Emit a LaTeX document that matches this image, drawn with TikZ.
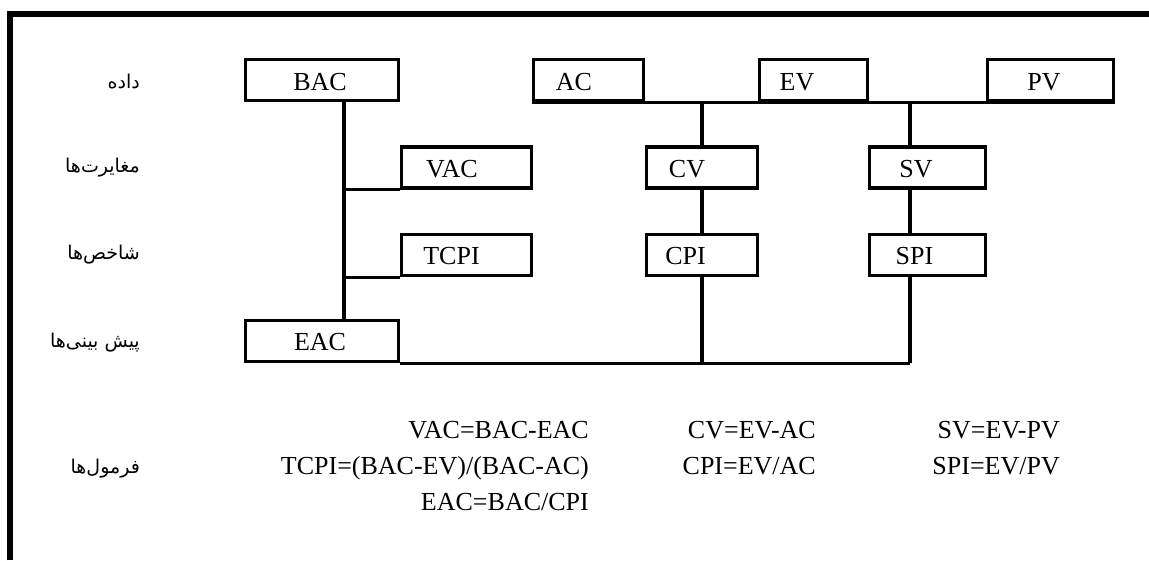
\documentclass[tikz,border=0pt]{standalone}
\usepackage{fontspec}
\setmainfont{Liberation Serif}
\newfontfamily\fa[Script=Arabic]{DejaVu Sans}
\TeXXeTstate=1
\begin{document}
\begin{tikzpicture}[x=1pt,y=-1pt,line join=miter]
\useasboundingbox (0,0) rectangle (1149,560);
\tikzset{
 box/.style={draw,line width=3.4pt,inner sep=0pt,minimum height=41pt},
 lbl/.style={anchor=base,inner sep=0pt,font=\fontsize{26}{30}\selectfont},
 fml/.style={anchor=base east,inner sep=0pt,font=\fontsize{26}{30}\selectfont},
 falbl/.style={anchor=east,inner sep=0pt,font=\fa\fontsize{19}{22}\selectfont},
 wire/.style={line width=3.4pt},
 frameline/.style={line width=6pt}
}
% frame
\coordinate (f1) at (10,560);
\coordinate (f2) at (10,14);
\coordinate (f3) at (1149,14);
\draw[frameline] (f1) -- (f2) -- (f3);
% boxes
\node[box,minimum width=153pt] (bac) at (322,80) {};
\node[box,minimum width=110pt] (ac) at (588.5,80) {};
\node[box,minimum width=108pt] (ev) at (813.5,80) {};
\node[box,minimum width=126pt] (pv) at (1050.5,80) {};
\node[box,minimum width=130pt] (vac) at (466.5,167.5) {};
\node[box,minimum width=111pt] (cv) at (702,167.5) {};
\node[box,minimum width=116pt] (sv) at (927.5,167.5) {};
\node[box,minimum width=130pt] (tcpi) at (466.5,255) {};
\node[box,minimum width=111pt] (cpi) at (702,255) {};
\node[box,minimum width=116pt] (spi) at (927.5,255) {};
\node[box,minimum width=153pt] (eac) at (322,341) {};
% box texts
\node[lbl] (tbac) at (320,90) {BAC};
\node[lbl] (tac) at (574,90) {AC};
\node[lbl] (tev) at (797,90) {EV};
\node[lbl] (tpv) at (1044,90) {PV};
\node[lbl] (tvac) at (452,177) {VAC};
\node[lbl] (tcv) at (687,177) {CV};
\node[lbl] (tsv) at (916,177) {SV};
\node[lbl] (ttcpi) at (451.5,264.5) {TCPI};
\node[lbl] (tcpi2) at (685.5,264.5) {CPI};
\node[lbl] (tspi) at (914.5,264.5) {SPI};
\node[lbl] (teac) at (320,350) {EAC};
% connectors
\coordinate (tb) at (344,0);
\coordinate (ts) at (910,0);
\draw[wire] (bac.south -| tb) -- (eac.north -| tb);
\draw[wire] (vac.south west) -- (vac.south west -| tb);
\draw[wire] (tcpi.south west) -- (tcpi.south west -| tb);
\draw[wire] (ac.south west) -- (pv.south east);
\draw[wire] (cv.north) -- (cv.north |- ac.south);
\draw[wire] (cv.south) -- (cpi.north);
\draw[wire] (cpi.south) -- (cpi.south |- eac.south);
\draw[wire] (sv.north -| ts) -- (ac.south -| ts);
\draw[wire] (sv.south -| ts) -- (spi.north -| ts);
\draw[wire] (spi.south -| ts) -- (eac.south -| ts);
\draw[wire] (eac.south east) -- (eac.south -| ts);
% Persian row labels
\node[falbl] (r1) at (140,82) {\beginR داده\endR};
\node[falbl] (r2) at (140,168) {\beginR مغایرت‌ها\endR};
\node[falbl] (r3) at (140,255) {\beginR شاخص‌ها\endR};
\node[falbl] (r4) at (140,343) {\beginR پیش بینی‌ها\endR};
\node[falbl] (r5) at (140,469) {\beginR فرمول‌ها\endR};
% formulas
\node[fml] (f11) at (589,438) {VAC=BAC-EAC};
\node[fml] (f12) at (589,474) {TCPI=(BAC-EV)/(BAC-AC)};
\node[fml] (f13) at (589,510) {EAC=BAC/CPI};
\node[fml] (f21) at (816,438) {CV=EV-AC};
\node[fml] (f22) at (816,474) {CPI=EV/AC};
\node[fml] (f31) at (1060,438) {SV=EV-PV};
\node[fml] (f32) at (1060,474) {SPI=EV/PV};
\end{tikzpicture}
\end{document}
